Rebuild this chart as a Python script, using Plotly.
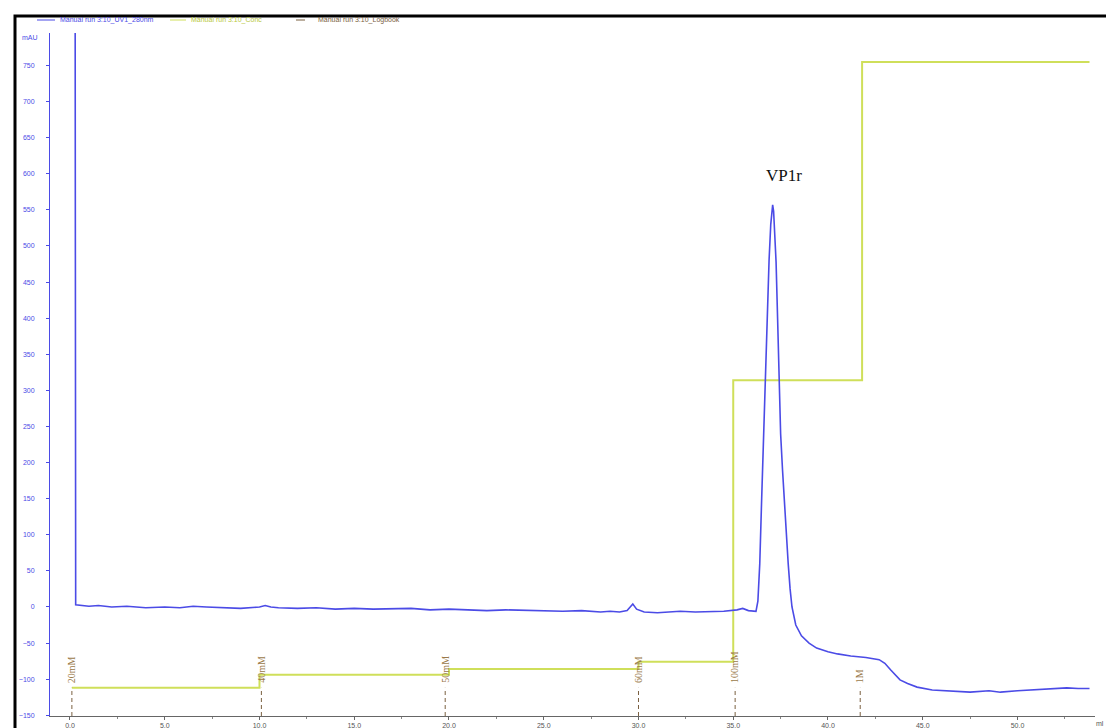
import plotly.graph_objects as go

# ---------------- data ----------------
uv_ml = [0.26, 0.30, 1.0, 1.5, 2.2, 3.0, 4.0, 5.0, 5.8, 6.5, 7.2, 8.0, 9.0, 10.0, 10.3, 10.6, 11.0,
         12.0, 13.0, 14.0, 15.0, 16.0, 17.0, 18.0, 19.0, 20.0, 21.0, 22.0, 23.0, 24.0, 25.0,
         26.0, 27.0, 28.0, 28.5, 29.0, 29.4, 29.7, 29.9, 30.3, 31.0, 31.5, 32.2, 33.0, 33.8,
         34.5, 35.2, 35.5, 35.8, 36.1,
         36.2, 36.3, 36.4, 36.5, 36.6, 36.68, 36.8, 36.89, 36.98, 37.03, 37.08, 37.13, 37.17,
         37.26, 37.34, 37.41, 37.5, 37.6, 37.68, 37.8, 37.9, 38.0, 38.1, 38.3, 38.6, 39.0,
         39.4, 40.0, 40.5, 41.2, 42.0, 42.7, 43.0, 43.3, 43.6, 43.8, 44.2, 44.7, 45.5, 46.5,
         47.5, 48.5, 49.1, 50.0, 50.8, 51.8, 52.6, 53.2, 53.8]
uv_mau = [1200, 3, 1, 2, 0, 1, -1, 0, -1, 1, 0, -1, -2, 0, 2, 0, -1,
          -2, -1, -3, -2, -3, -3, -2, -4, -3, -4, -5, -4, -5, -5,
          -6, -5, -7, -6, -7, -5, 4, -3, -7, -8, -7, -6, -7, -6,
          -6, -4, -2, -5, -5,
          -6, 8, 60, 150, 235, 310, 410, 480, 530, 550, 557, 548, 530,
          478, 400, 314, 240, 190, 150, 100, 60, 25, 0, -25, -40, -50,
          -57, -62, -65, -68, -70, -73, -78, -87, -96, -101, -106, -111, -115, -117,
          -118, -116, -118, -116, -115, -114, -112, -113, -113]

conc_ml = [0.1, 10.0, 20.0, 30.0, 35.0, 41.8, 53.8]
conc_val = [-112, -94, -86, -76, 314, 755, 755]

log_ml = [0.1, 10.1, 19.8, 30.0, 35.1, 41.7]
log_text = ["20mM", "40mM", "50mM", "60mM", "100mM", "1M"]

x_ticks = [0, 5, 10, 15, 20, 25, 30, 35, 40, 45, 50]
y_ticks = list(range(-150, 751, 50))

peak_label = "VP1r"
peak_ml = 37.7
peak_y = 597

legend_names = ["Manual run 3:10_UV1_280nm", "Manual run 3:10_Conc", "Manual run 3:10_Logbook"]

# ---------------- styles ----------------
UV_COL = "#4b4be6"
CONC_COL = "#cfdf5a"
LOG_COL = "#7a6040"
LOG_TXT = "#9a7a4a"

W, H = 1106, 728
ML, MR, MT, MB = 50, 11, 33, 12
PW, PH = W - ML - MR, H - MT - MB

def px(p):
    return (p - ML) / PW

def py(p):
    return (H - MB - p) / PH

fig = go.Figure()

fig.add_trace(go.Scatter(x=conc_ml, y=conc_val, mode="lines", line=dict(color=CONC_COL, width=2, shape="hv"),
                         name=legend_names[1], showlegend=False, hoverinfo="skip"))

# logbook dashed markers
lx, ly = [], []
for m in log_ml:
    lx += [m, m, None]
    ly += [-151, -112, None]
fig.add_trace(go.Scatter(x=lx, y=ly, mode="lines", line=dict(color=LOG_COL, width=1, dash="4px,3px"),
                         name=legend_names[2], showlegend=False, hoverinfo="skip"))

fig.add_trace(go.Scatter(x=uv_ml, y=uv_mau, mode="lines", line=dict(color=UV_COL, width=1.6),
                         name=legend_names[0], showlegend=False))

ann = []
for m, t in zip(log_ml, log_text):
    ann.append(dict(x=m, y=-108, xref="x", yref="y", text=t, showarrow=False, textangle=-90,
                    xanchor="center", yanchor="bottom",
                    font=dict(family="Liberation Serif", size=10, color=LOG_TXT)))

ann.append(dict(x=peak_ml, y=peak_y, xref="x", yref="y", text=peak_label, showarrow=False,
                font=dict(family="Liberation Serif", size=17, color="#111111")))

# mAU and ml labels
ann.append(dict(x=px(20), y=py(37), xref="paper", yref="paper", text="mAU", showarrow=False,
                xanchor="left", yanchor="middle", font=dict(family="Liberation Sans", size=7, color=UV_COL)))
ann.append(dict(x=px(1094), y=py(723), xref="paper", yref="paper", text="ml", showarrow=False,
                xanchor="left", yanchor="middle", font=dict(family="Liberation Sans", size=7, color="#555555")))

# custom legend row
shapes = []
leg = [(37, 55, 58, UV_COL, "solid", UV_COL),
       (170, 186, 189, CONC_COL, "solid", "#b8c840"),
       (296, 312, 316, LOG_COL, "dash", LOG_COL)]
for (x0, x1, xt, col, dash, tcol), name in zip(leg, legend_names):
    shapes.append(dict(type="line", xref="paper", yref="paper", x0=px(x0), x1=px(x1), y0=py(20), y1=py(20),
                       line=dict(color=col, width=1, dash=dash)))
    ann.append(dict(x=px(xt), y=py(20), xref="paper", yref="paper", text=name, showarrow=False,
                    xanchor="left", yanchor="middle", font=dict(family="Liberation Sans", size=7, color=tcol)))

# outer frame
shapes.append(dict(type="rect", xref="paper", yref="paper", x0=px(15), x1=px(1112), y0=py(16), y1=py(735),
                   line=dict(color="#000000", width=3)))

fig.update_layout(
    width=W, height=H,
    margin=dict(l=ML, r=MR, t=MT, b=MB, autoexpand=False),
    paper_bgcolor="white", plot_bgcolor="white",
    showlegend=False,
    annotations=ann, shapes=shapes,
    xaxis=dict(range=[-1.055, 54.09], tickvals=x_ticks, ticktext=[f"{v:.1f}" for v in x_ticks],
               automargin=False,
               showgrid=False, zeroline=False, showline=True, linecolor="#666666", linewidth=1,
               ticks="outside", ticklen=3, tickcolor="#666666",
               minor=dict(ticks="outside", ticklen=2, dtick=2.5, tickcolor="#888888"),
               tickfont=dict(family="Liberation Sans", size=7, color="#555555")),
    yaxis=dict(range=[-151, 795], tickvals=y_ticks, showgrid=False, zeroline=False,
               automargin=False,
               showline=True, linecolor=UV_COL, linewidth=1,
               ticks="outside", ticklen=3, tickcolor=UV_COL, ticklabelstandoff=10,
               tickfont=dict(family="Liberation Sans", size=7, color=UV_COL)),
)

fig.write_html("out.html", config={"displayModeBar": False},
               post_script="document.body.style.margin='0px';document.body.style.overflow='hidden';")
